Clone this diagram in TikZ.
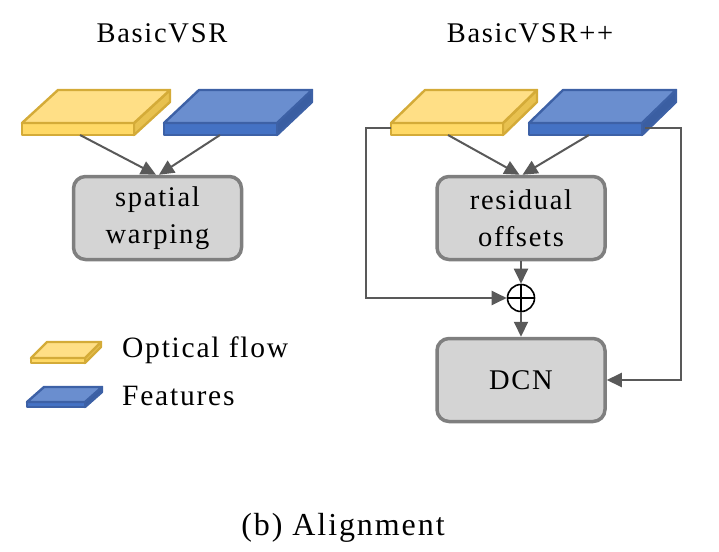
\documentclass[tikz,border=0pt]{standalone}
\usepackage{fontspec}
\setmainfont{Liberation Serif}[LetterSpace=6]
\usetikzlibrary{arrows.meta}
\definecolor{ytop}{HTML}{FFDF86}
\definecolor{yfront}{HTML}{FFD966}
\definecolor{yside}{HTML}{E8C14F}
\definecolor{yedge}{HTML}{D4AB38}
\definecolor{btop}{HTML}{6A8ECF}
\definecolor{bfront}{HTML}{4472C4}
\definecolor{bside}{HTML}{3A5EA2}
\definecolor{bedge}{HTML}{3D61A6}
\definecolor{boxfill}{HTML}{D4D4D4}
\definecolor{boxedge}{HTML}{7F7F7F}
\definecolor{wire}{HTML}{595959}
\newcommand\myslab[7]{%
  % #1 x, #2 y (front-left top), #3 width, #4 dx, #5 dy (up), #6 thickness, #7 colour prefix
  \filldraw[fill=#7side,draw=#7edge,line width=2.4pt,line join=round]
    (#1+#3,#2) -- (#1+#3+#4,#2-#5) -- (#1+#3+#4,#2-#5+#6) -- (#1+#3,#2+#6) -- cycle;
  \filldraw[fill=#7front,draw=#7edge,line width=2.4pt,line join=round]
    (#1,#2) rectangle (#1+#3,#2+#6);
  \filldraw[fill=#7top,draw=#7edge,line width=2.4pt,line join=round]
    (#1,#2) -- (#1+#3,#2) -- (#1+#3+#4,#2-#5) -- (#1+#4,#2-#5) -- cycle;
}
\begin{document}
\begin{tikzpicture}[x=1pt,y=-1pt,
  procbox/.style={draw=boxedge,fill=boxfill,line width=3.5pt,rounded corners=12pt,
    minimum width=168pt,minimum height=83pt,align=center,inner sep=0pt,
    font=\fontsize{28.5}{37}\selectfont},
  wirearrow/.style={draw=wire,line width=2pt,-{Triangle[length=15pt,width=14pt]}},
  lbl/.style={inner sep=0pt,font=\fontsize{28.5}{34}\selectfont}]
\useasboundingbox (0,0) rectangle (719,551);

% titles
\node[lbl] (t1) at (162,33) {BasicVSR};
\node[lbl] (t2) at (530,33) {BasicVSR++};

% left slabs
\myslab{22}{123}{112}{36}{33}{12}{y}
\myslab{164}{123}{113}{35}{33}{12}{b}
\coordinate (ly) at (80,135);
\coordinate (lb) at (220,135);

% right slabs
\myslab{391}{123}{112}{34}{33}{12}{y}
\myslab{529}{123}{113}{34}{33}{12}{b}
\coordinate (ry) at (448,135);
\coordinate (rb) at (589,135);
\coordinate (ryl) at (391,128);
\coordinate (rbr) at (645,128);
\coordinate (cl1) at (366,128);
\coordinate (cr1) at (681,128);

% boxes
\node[procbox] (sw) at (157.5,218) {spatial\\warping};
\node[procbox] (ro) at (521,218) {residual\\offsets};
\node[procbox] (dcn) at (521,380) {DCN};

% oplus
\node[draw=black,circle,line width=1.6pt,minimum size=27pt,inner sep=0pt] (op) at (521,298) {};
\draw[black,line width=1.6pt] (op.north) -- (op.south) (op.west) -- (op.east);

% connectors
\draw[wirearrow] (ly) -- ([xshift=-1.5pt]sw.north);
\draw[wirearrow] (lb) -- ([xshift=1.5pt]sw.north);
\draw[wirearrow] (ry) -- ([xshift=-1.5pt]ro.north);
\draw[wirearrow] (rb) -- ([xshift=1.5pt]ro.north);
\draw[wirearrow] (ro.south) -- (op.north);
\draw[wirearrow] (op.south) -- (dcn.north);
\draw[wirearrow] (ryl) -- (cl1) |- (op.west);
\draw[wirearrow] (rbr) -- (cr1) |- (dcn.east);

% legend
\myslab{31}{358}{54}{16}{16}{5}{y}
\myslab{27}{402}{58}{17}{15}{5}{b}
\node[lbl,anchor=base west,font=\fontsize{29.5}{34}\selectfont] (l1) at (122,357) {Optical flow};
\node[lbl,anchor=base west,font=\fontsize{29.5}{34}\selectfont] (l2) at (122,405) {Features};

% caption
\node[inner sep=0pt,anchor=base,font=\fontsize{32}{36}\selectfont] (cap) at (343,535) {(b) Alignment};
\end{tikzpicture}
\end{document}
